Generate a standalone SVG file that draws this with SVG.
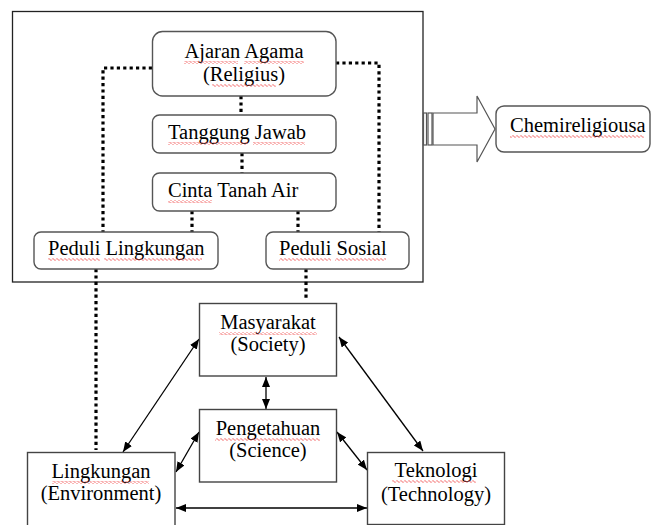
<svg xmlns="http://www.w3.org/2000/svg" width="653" height="525" viewBox="0 0 653 525">
<style>
text{font-family:"Liberation Serif","Times New Roman",serif;font-size:20.5px;fill:#000}
.c{text-anchor:middle}
.rbox{fill:#fff;stroke:#555;stroke-width:1.4}
.box{fill:#fff;stroke:#444;stroke-width:1.4}
.dot{fill:none;stroke:#000;stroke-width:3.2;stroke-dasharray:3.2 3.2}
.arr{fill:none;stroke:#000;stroke-width:1.3;marker-start:url(#ah);marker-end:url(#ah)}
.wv{fill:url(#wavy)}
</style>
<defs>
<marker id="ah" viewBox="0 0 10 8" refX="10" refY="4" markerWidth="10" markerHeight="8" markerUnits="userSpaceOnUse" orient="auto-start-reverse">
<path d="M0,0 L10,4 L0,8 Z" fill="#000"/>
</marker>
<pattern id="wavy" x="0" y="0" width="4" height="3" patternUnits="userSpaceOnUse">
<path d="M0,1.5 L1,0.5 L3,2.5 L4,1.5" fill="none" stroke="#e33" stroke-width="0.8"/>
</pattern>
</defs>
<rect x="0" y="0" width="653" height="525" fill="#fff"/>
<rect id="frame" x="12.5" y="11.5" width="410.5" height="270.5" fill="none" stroke="#222" stroke-width="1.3"/>

<g id="connectors">
<path class="dot" d="M152,68 H103 V232"/>
<path class="dot" d="M336,63 H379 V232"/>
<path class="dot" d="M241,96 V115"/>
<path class="dot" d="M242,153 V173"/>
<path class="dot" d="M192,211 V232"/>
<path class="dot" d="M298,211 V232"/>
<path class="dot" d="M96,269 V450"/>
<path class="dot" d="M306,269 V301"/>
<line class="arr" x1="199" y1="339" x2="123" y2="452"/>
<line class="arr" x1="339" y1="337" x2="423" y2="451"/>
<line class="arr" x1="266" y1="377" x2="266" y2="409"/>
<line class="arr" x1="199" y1="432" x2="176" y2="472"/>
<line class="arr" x1="337" y1="432" x2="367" y2="470"/>
<line class="arr" x1="176" y1="508" x2="367" y2="508"/>
<g id="bigarrow" fill="#fff" stroke="#555" stroke-width="1.2">
<path d="M433,113 H477 V96 L495,129 L477,162 V145 H433 Z"/>
<rect x="423.5" y="113" width="3" height="32"/>
<rect x="428" y="113" width="4" height="32"/>
</g>
</g>

<g id="ajaran">
<rect class="rbox" x="152.5" y="31.5" width="183.5" height="64.5" rx="10"/>
<text class="c" x="244" y="58">Ajaran Agama</text>
<text class="c" x="244" y="81">(Religius)</text>
<rect class="wv" x="184" y="61" width="54" height="3"/>
<rect class="wv" x="244" y="61" width="60" height="3"/>
<rect class="wv" x="212" y="84" width="64" height="3"/>
</g>
<g id="tanggung">
<rect class="rbox" x="152.5" y="115" width="183.5" height="38" rx="7"/>
<text x="168" y="139">Tanggung Jawab</text>
<rect class="wv" x="168" y="142" width="80" height="3"/>
<rect class="wv" x="253" y="142" width="52" height="3"/>
</g>
<g id="cinta">
<rect class="rbox" x="152.5" y="173" width="183.5" height="38" rx="7"/>
<text x="168" y="197">Cinta Tanah Air</text>
<rect class="wv" x="168" y="200" width="44" height="3"/>
</g>
<g id="peduliLingkungan">
<rect class="rbox" x="34" y="232" width="184" height="37" rx="7"/>
<text x="48" y="255">Peduli Lingkungan</text>
<rect class="wv" x="48" y="258" width="52" height="3"/>
<rect class="wv" x="104" y="258" width="98" height="3"/>
</g>
<g id="peduliSosial">
<rect class="rbox" x="266" y="232" width="143" height="37" rx="7"/>
<text x="279" y="255">Peduli Sosial</text>
<rect class="wv" x="279" y="258" width="52" height="3"/>
<rect class="wv" x="335" y="258" width="51" height="3"/>
</g>
<g id="chemireligiousa">
<rect class="rbox" x="496" y="106" width="154" height="46" rx="8"/>
<text x="510" y="132">Chemireligiousa</text>
<rect class="wv" x="510" y="135" width="134" height="3"/>
</g>
<g id="masyarakat">
<rect class="box" x="199.5" y="303.5" width="137" height="72.5"/>
<text class="c" x="268" y="329">Masyarakat</text>
<text class="c" x="268" y="351">(Society)</text>
<rect class="wv" x="219" y="332" width="98" height="3"/>
</g>
<g id="pengetahuan">
<rect class="box" x="199.5" y="409.5" width="137" height="72.5"/>
<text class="c" x="268" y="435">Pengetahuan</text>
<text class="c" x="268" y="457">(Science)</text>
<rect class="wv" x="215" y="438" width="105" height="3"/>
</g>
<g id="lingkungan">
<rect class="box" x="27.5" y="452.5" width="147.5" height="80"/>
<text class="c" x="101" y="478">Lingkungan</text>
<text class="c" x="101" y="500">(Environment)</text>
<rect class="wv" x="52" y="481" width="97" height="3"/>
</g>
<g id="teknologi">
<rect class="box" x="367.5" y="452.5" width="137" height="72"/>
<text class="c" x="436" y="477">Teknologi</text>
<text class="c" x="436" y="501">(Technology)</text>
<rect class="wv" x="392" y="480" width="84" height="3"/>
</g>
</svg>
